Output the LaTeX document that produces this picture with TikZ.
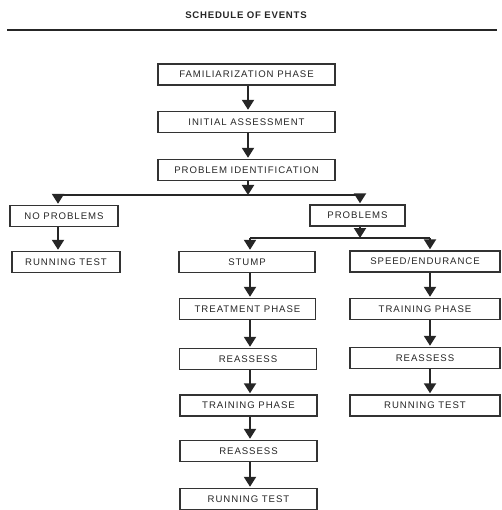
\documentclass[tikz,border=0pt]{standalone}
\usepackage{fontspec}
\setmainfont{Liberation Sans}[LetterSpace=10]
\newfontfamily\titlefont{Liberation Sans}[LetterSpace=8]
\usetikzlibrary{arrows.meta}
\tikzset{
  box/.style={draw=black!80, line width=1.4pt, minimum height=21pt, inner sep=0pt, font=\fontsize{9.6}{11}\selectfont, text=black!85},
  arr/.style={draw=black!85, line width=2pt, -{Triangle[width=12pt,length=10pt]}, shorten >=1pt},
  bar/.style={draw=black!85, line width=2pt}
}
\begin{document}
\begin{tikzpicture}[x=1pt,y=-1pt]
\useasboundingbox (0,0) rectangle (501,510);
\node[font=\titlefont\bfseries\fontsize{9.6}{11}\selectfont, text=black!85] (title) at (246,15) {SCHEDULE OF EVENTS};
\coordinate (rl) at (7,30);
\coordinate (rr) at (497,30);
\draw[draw=black!85, line width=2.5pt] (rl) -- (rr);

\node[box, minimum width=177pt] (fam) at (246.5,74.5) {FAMILIARIZATION PHASE};
\node[box, minimum width=177pt] (ia) at (246.5,122) {INITIAL ASSESSMENT};
\node[box, minimum width=177pt] (pi) at (246.5,170) {PROBLEM IDENTIFICATION};

\node[box, minimum width=108pt] (np) at (64,216) {NO PROBLEMS};
\node[box, minimum width=108pt] (rt1) at (66,262) {RUNNING TEST};
\node[box, minimum width=95pt] (pr) at (357.5,215.5) {PROBLEMS};

\node[box, minimum width=136pt] (st) at (247,262) {STUMP};
\node[box, minimum width=136pt] (tp) at (247.5,309) {TREATMENT PHASE};
\node[box, minimum width=137pt] (ra1) at (248,359) {REASSESS};
\node[box, minimum width=137pt] (trl) at (248.5,405.5) {TRAINING PHASE};
\node[box, minimum width=137pt] (ra2) at (248.5,451) {REASSESS};
\node[box, minimum width=137pt] (rt2) at (248.5,499) {RUNNING TEST};

\node[box, minimum width=150pt] (se) at (425,261.5) {SPEED/ENDURANCE};
\node[box, minimum width=150pt] (trr) at (425,309) {TRAINING PHASE};
\node[box, minimum width=150pt] (ra3) at (425,358) {REASSESS};
\node[box, minimum width=150pt] (rt3) at (425,405.5) {RUNNING TEST};

\coordinate (c1) at (248,0);
\draw[arr] (fam.south -| c1) -- (ia.north -| c1);
\draw[arr] (ia.south -| c1) -- (pi.north -| c1);

\coordinate (j1) at (248,195);
\coordinate (j1l) at (58,195);
\coordinate (j1r) at (360,195);
\draw[arr, shorten >=0pt] (pi.south -| j1) -- (j1);
\draw[bar] (j1l) -- (j1r);
\draw[arr] (j1l) -- (j1l |- np.north);
\draw[arr] (j1r) -- (j1r |- pr.north);
\draw[arr] (np.south -| j1l) -- (rt1.north -| j1l);

\coordinate (j2) at (360,238);
\coordinate (j2l) at (250,238);
\coordinate (j2r) at (430,238);
\draw[arr, shorten >=0pt] (pr.south -| j2) -- (j2);
\draw[bar] (j2l) -- (j2r);
\draw[arr] (j2l) -- (j2l |- st.north);
\draw[arr] (j2r) -- (j2r |- se.north);

\draw[arr] (st.south -| j2l) -- (tp.north -| j2l);
\draw[arr] (tp.south -| j2l) -- (ra1.north -| j2l);
\draw[arr] (ra1.south -| j2l) -- (trl.north -| j2l);
\draw[arr] (trl.south -| j2l) -- (ra2.north -| j2l);
\draw[arr] (ra2.south -| j2l) -- (rt2.north -| j2l);

\draw[arr] (se.south -| j2r) -- (trr.north -| j2r);
\draw[arr] (trr.south -| j2r) -- (ra3.north -| j2r);
\draw[arr] (ra3.south -| j2r) -- (rt3.north -| j2r);
\end{tikzpicture}
\end{document}
